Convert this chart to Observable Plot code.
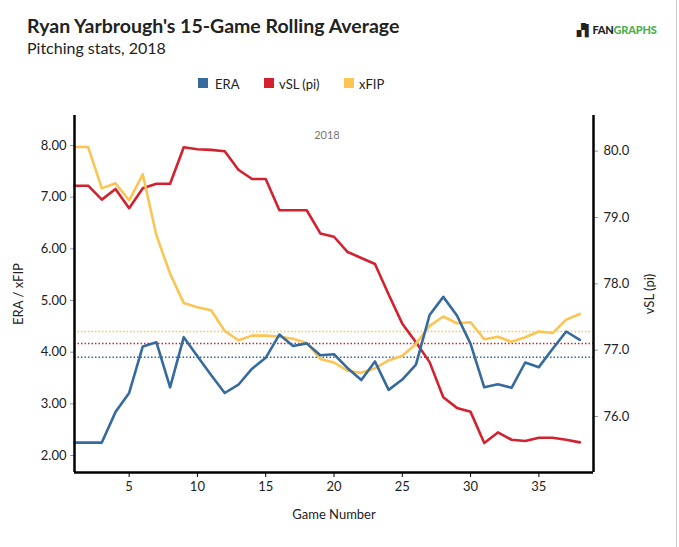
<!DOCTYPE html>
<html>
<head>
<meta charset="utf-8">
<script src="https://cdn.jsdelivr.net/npm/d3@7"></script>
<script src="https://cdn.jsdelivr.net/npm/@observablehq/plot@0.6"></script>
<style>
  body { margin: 0; background: #fff; font-family: Lato, "Noto Sans", sans-serif; }
  #wrap { position: relative; width: 679px; height: 547px; overflow: hidden; }
  #edge { position: absolute; left: 676px; top: 0; width: 1px; height: 547px; background: #ccc; }
  #title { position: absolute; left: 27px; top: 14px; font-size: 19.5px; font-weight: 700; color: #222; white-space: nowrap; line-height: 24px; }
  #subtitle { position: absolute; left: 27px; top: 38px; font-size: 16px; color: #222; white-space: nowrap; line-height: 20px; }
  #logo { position: absolute; left: 577px; top: 23px; font-size: 11px; font-weight: 900; letter-spacing: -0.2px; white-space: nowrap; }
  #logo .fan { color: #222; } #logo .gr { color: #4caf50; }
  .leg { position: absolute; top: 76px; font-size: 13px; color: #222; white-space: nowrap; }
  .sw { position: absolute; top: 78px; width: 10px; height: 10px; }
  #chart { position: absolute; left: 0; top: 100px; }
</style>
</head>
<body>
<div id="wrap">
  <div id="title">Ryan Yarbrough's 15-Game Rolling Average</div>
  <div id="subtitle">Pitching stats, 2018</div>
  <div id="logo"><span class="fan">▞▌FAN</span><span class="gr">GRAPHS</span></div>
  <div class="sw" style="left:198px;background:#356a9f"></div><div class="leg" style="left:215px">ERA</div>
  <div class="sw" style="left:264px;background:#d3222f"></div><div class="leg" style="left:279px">vSL (pi)</div>
  <div class="sw" style="left:344px;background:#fbc453"></div><div class="leg" style="left:359px">xFIP</div>
  <div id="chart"></div>
  <div id="edge"></div>
</div>
<script>
const games = [1,2,3,4,5,6,7,8,9,10,11,12,13,14,15,16,17,18,19,20,21,22,23,24,25,26,27,28,29,30,31,32,33,34,35,36,37,38];
const era = [2.25,2.25,2.25,2.84,3.21,4.11,4.19,3.32,4.29,3.92,
             3.56,3.21,3.37,3.68,3.89,4.34,4.12,4.17,3.94,3.96,
             3.69,3.46,3.82,3.27,3.47,3.76,4.72,5.07,4.71,4.16,
             3.32,3.38,3.31,3.80,3.71,4.06,4.40,4.24];
const xfip = [7.97,7.97,7.17,7.27,6.94,7.44,6.26,5.52,4.95,4.87,
              4.81,4.41,4.23,4.32,4.32,4.30,4.26,4.18,3.87,3.80,
              3.64,3.60,3.69,3.84,3.93,4.16,4.51,4.69,4.56,4.58,
              4.25,4.30,4.20,4.29,4.40,4.37,4.63,4.74];
const vsl = [79.48,79.48,79.27,79.43,79.14,79.44,79.51,79.51,80.06,80.03,
             80.02,80.00,79.72,79.58,79.58,79.11,79.11,79.11,78.76,78.71,
             78.48,78.39,78.30,77.84,77.40,77.12,76.82,76.29,76.13,76.07,
             75.60,75.76,75.65,75.63,75.68,75.68,75.65,75.61];
const eraAvg = 3.90, xfipAvg = 4.40, vslAvg = 77.10;
const leftTicks = [2,3,4,5,6,7,8];
const rightTicks = [76,77,78,79,80];
const xTicks = [5,10,15,20,25,30,35];

const leftDomain = [1.671, 8.581];
const rightDomain = [75.156, 80.538];
const k = (leftDomain[1] - leftDomain[0]) / (rightDomain[1] - rightDomain[0]);
const toLeft = v => leftDomain[0] + (v - rightDomain[0]) * k;
const fromLeft = e => rightDomain[0] + (e - leftDomain[0]) / k;

const C = {era: "#356a9f", vsl: "#d3222f", xfip: "#fbc453"};
const rows = games.map((g, i) => ({game: g, era: era[i], xfip: xfip[i], vsl: toLeft(vsl[i])}));

const chart = Plot.plot({
  width: 679, height: 447,
  marginTop: 15, marginBottom: 75, marginLeft: 74, marginRight: 86,
  style: {fontFamily: "Lato, 'Noto Sans', sans-serif", fontSize: "13px", color: "#222", background: "transparent"},
  x: {domain: [1, 39]},
  y: {domain: leftDomain},
  marks: [
    Plot.ruleY([eraAvg], {stroke: C.era, strokeWidth: 1.5, strokeDasharray: "1.5,2"}),
    Plot.ruleY([toLeft(vslAvg)], {stroke: C.vsl, strokeWidth: 1.5, strokeDasharray: "1.5,2"}),
    Plot.ruleY([xfipAvg], {stroke: C.xfip, strokeWidth: 1.5, strokeDasharray: "1.5,2"}),
    Plot.lineY(rows, {x: "game", y: "vsl", stroke: C.vsl, strokeWidth: 2.6}),
    Plot.lineY(rows, {x: "game", y: "xfip", stroke: C.xfip, strokeWidth: 2.6}),
    Plot.lineY(rows, {x: "game", y: "era", stroke: C.era, strokeWidth: 2.6}),
    Plot.text(["2018"], {frameAnchor: "top", dx: -7, dy: 16, fill: "#777", fontSize: 11}),
    Plot.axisX({ticks: xTicks, tickSize: 5, tickPadding: 4, stroke: "#000", label: "Game Number", labelAnchor: "center", labelArrow: "none", labelOffset: 46, fontSize: 13}),
    Plot.axisY({ticks: leftTicks, tickFormat: d => d.toFixed(2), tickSize: 4, tickPadding: 4, stroke: "#999",
      label: "ERA / xFIP", labelAnchor: "center", labelArrow: "none", labelOffset: 61}),
    Plot.axisY({anchor: "right", ticks: rightTicks.map(toLeft), tickFormat: d => fromLeft(d).toFixed(1), tickSize: 4, tickPadding: 6, stroke: "#999",
      label: "vSL (pi)", labelAnchor: "center", labelArrow: "none", labelOffset: 60}),
    Plot.ruleX([1], {stroke: "#000", strokeWidth: 2.5}),
    Plot.ruleX([39], {stroke: "#000", strokeWidth: 2.5}),
    Plot.ruleY([leftDomain[0]], {stroke: "#000", strokeWidth: 2.5})
  ]
});
document.getElementById("chart").appendChild(chart);
</script>
</body>
</html>
